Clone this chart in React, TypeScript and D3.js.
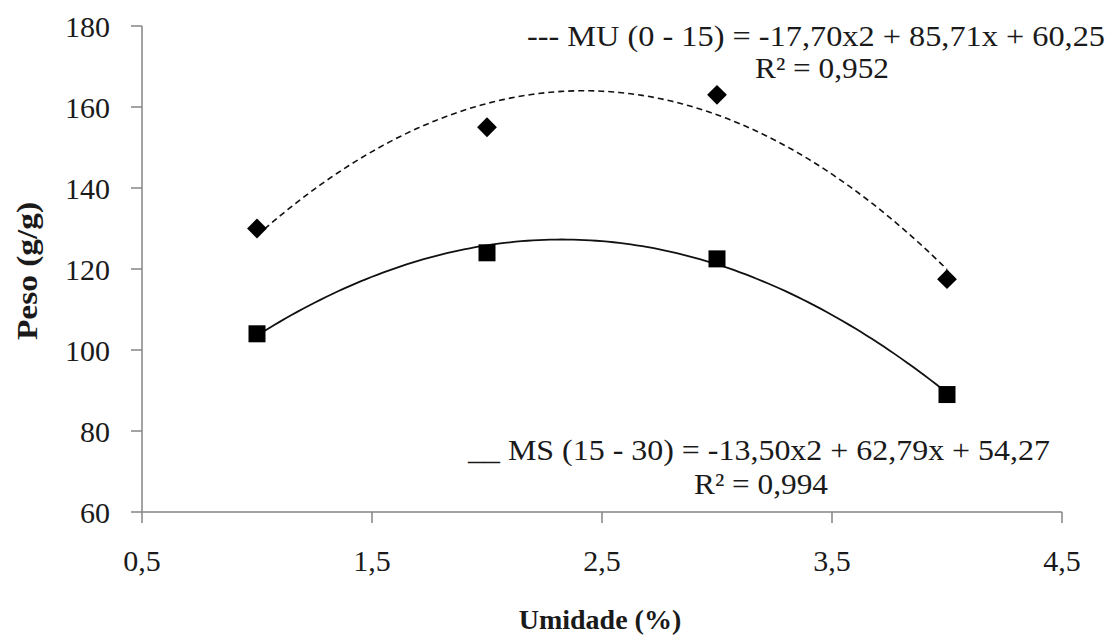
import React from "react";
import * as d3 from "d3";

const xValues = [1, 2, 3, 4];
const muValues = [130, 155, 163, 117.5];
const msValues = [104, 124, 122.5, 89];
const muCoef = [-17.7, 85.71, 60.25];
const msCoef = [-13.5, 62.79, 54.27];
const xTicks = [0.5, 1.5, 2.5, 3.5, 4.5];
const xTickLabels = ["0,5", "1,5", "2,5", "3,5", "4,5"];
const yTicks = [60, 80, 100, 120, 140, 160, 180];
const muLabel = "--- MU (0 - 15) = -17,70x2 + 85,71x + 60,25";
const muR2 = "R² = 0,952";
const msLabel = "__ MS (15 - 30) = -13,50x2 + 62,79x + 54,27";
const msR2 = "R² = 0,994";

const W = 1111;
const H = 635;

export default function App() {
  const x = d3.scaleLinear().domain([0.5, 4.5]).range([142, 1062]);
  const y = d3.scaleLinear().domain([60, 180]).range([512, 26]);
  const fs = { fontFamily: '"Liberation Serif"' };
  const axisColor = "#858585";
  const ink = "#1a1a1a";

  const samples = d3.range(0, 121).map((i) => 1 + (3 * i) / 120);
  const poly = (c: number[]) => (t: number) => c[0] * t * t + c[1] * t + c[2];
  const muF = poly(muCoef);
  const msF = poly(msCoef);
  const muPath =
    d3
      .line<number>()
      .x((t) => x(t))
      .y((t) => y(muF(t)))(samples) || "";
  const msPath =
    d3
      .line<number>()
      .x((t) => x(t))
      .y((t) => y(msF(t)))(samples) || "";

  return (
    <svg
      width={W}
      height={H}
      style={{ position: "absolute", left: 0, top: 0, background: "#fff" }}
    >
      <rect x={0} y={0} width={W} height={H} fill="#fff" />
      <line x1={x(0.5)} x2={x(0.5)} y1={y(180)} y2={y(60)} stroke={axisColor} strokeWidth={1.5} />
      <line x1={x(0.5)} x2={x(4.5)} y1={y(60)} y2={y(60)} stroke={axisColor} strokeWidth={1.5} />
      {yTicks.map((v) => (
        <g key={"y" + v}>
          <line x1={x(0.5) - 11} x2={x(0.5)} y1={y(v)} y2={y(v)} stroke={axisColor} strokeWidth={1.5} />
          <text x={110} y={y(v)} dy="0.35em" textAnchor="end" style={fs} fontSize={30} fill={ink}>
            {v}
          </text>
        </g>
      ))}
      {xTicks.map((v, i) => (
        <g key={"x" + v}>
          <line x1={x(v)} x2={x(v)} y1={y(60)} y2={y(60) + 11} stroke={axisColor} strokeWidth={1.5} />
          <text x={x(v)} y={y(60) + 59} textAnchor="middle" style={fs} fontSize={30} fill={ink}>
            {xTickLabels[i]}
          </text>
        </g>
      ))}
      <path d={muPath} fill="none" stroke="#111" strokeWidth={1.6} strokeDasharray="6,4" />
      <path d={msPath} fill="none" stroke="#111" strokeWidth={1.8} />
      {xValues.map((v, i) => (
        <rect
          key={"mu" + i}
          x={x(v) - 7}
          y={y(muValues[i]) - 7}
          width={14}
          height={14}
          fill="#000"
          transform={`rotate(45 ${x(v)} ${y(muValues[i])})`}
        />
      ))}
      {xValues.map((v, i) => (
        <rect
          key={"ms" + i}
          x={x(v) - 8.5}
          y={y(msValues[i]) - 8.5}
          width={17}
          height={17}
          fill="#000"
        />
      ))}
      <text x={527} y={46} style={fs} fontSize={30} fill={ink} textLength={578} lengthAdjust="spacingAndGlyphs">
        {muLabel}
      </text>
      <text x={822} y={78} textAnchor="middle" style={fs} fontSize={30} fill={ink} textLength={134} lengthAdjust="spacingAndGlyphs">
        {muR2}
      </text>
      <text x={468} y={460} style={fs} fontSize={30} fill={ink} textLength={582} lengthAdjust="spacingAndGlyphs">
        {msLabel}
      </text>
      <text x={761} y={494} textAnchor="middle" style={fs} fontSize={30} fill={ink} textLength={134} lengthAdjust="spacingAndGlyphs">
        {msR2}
      </text>
      <text
        transform={`translate(37, 271) rotate(-90)`}
        textAnchor="middle"
        style={fs}
        fontSize={29}
        fontWeight="bold"
        fill={ink}
        textLength={138}
        lengthAdjust="spacingAndGlyphs"
      >
        Peso (g/g)
      </text>
      <text x={600} y={629} textAnchor="middle" style={fs} fontSize={28} fontWeight="bold" fill={ink}>
        Umidade (%)
      </text>
    </svg>
  );
}
